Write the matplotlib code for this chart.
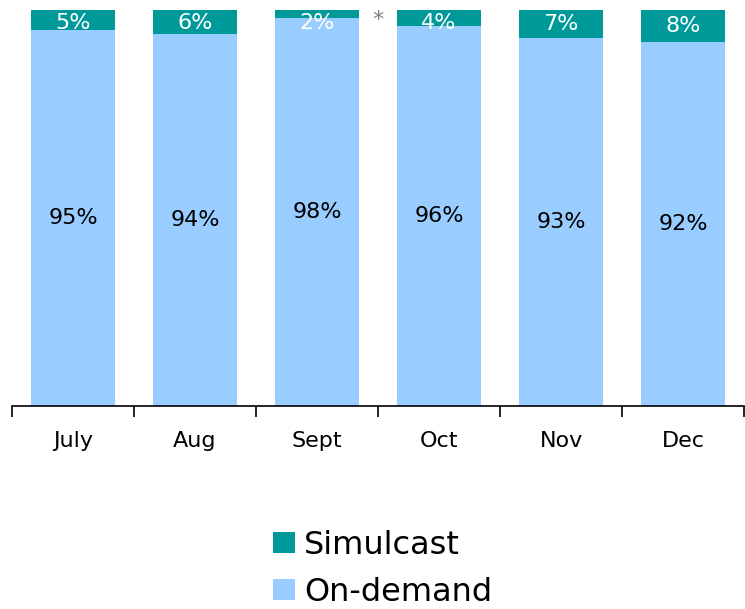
import matplotlib
matplotlib.use("Agg")
import matplotlib.pyplot as plt
import numpy as np

months = ["July", "Aug", "Sept", "Oct", "Nov", "Dec"]
on_demand = [95, 94, 98, 96, 93, 92]
simulcast = [5, 6, 2, 4, 7, 8]

teal = "#009999"
light_blue = "#99CCFF"

plt.rcParams["font.family"] = ["DejaVu Sans"]

fig = plt.figure(figsize=(7.45, 6.09), dpi=100)
ax = fig.add_axes([12 / 745, 1 - 406 / 609, 732 / 745, 396 / 609])

x = np.arange(len(months))
ax.bar(x, on_demand, width=0.685, color=light_blue, label="On-demand")
ax.bar(x, simulcast, width=0.685, bottom=on_demand, color=teal, label="Simulcast")

# labels inside the bars
for i in range(len(months)):
    ax.text(x[i], on_demand[i] / 2, f"{on_demand[i]}%", ha="center", va="center",
            fontsize=16, color="black")
    y_sim = min(on_demand[i] + simulcast[i] / 2, 96.6)
    ax.text(x[i], y_sim, f"{simulcast[i]}%", ha="center", va="center",
            fontsize=16, color="white")

ax.text(2.5, 97.5, "*", ha="center", va="center", fontsize=16, color="#808080")

ax.set_xlim(-0.5, len(months) - 0.5)
ax.set_ylim(0, 100)
ax.set_yticks([])
ax.set_xticks(x)
ax.set_xticklabels(months, fontsize=16)
ax.set_xticks(np.arange(-0.5, len(months)), minor=True)
ax.tick_params(axis="x", which="major", length=0, pad=18)
ax.tick_params(axis="x", which="minor", length=8, width=1.2, direction="out", color="black")
for s in ["left", "right", "top"]:
    ax.spines[s].set_visible(False)
ax.spines["bottom"].set_linewidth(1.2)

handles, labels = ax.get_legend_handles_labels()
fig.legend(handles[::-1], labels[::-1], loc="center", bbox_to_anchor=(0.514, 0.066),
           frameon=False, fontsize=23, handlelength=0.67, handleheight=0.67,
           handletextpad=0.3, labelspacing=0.5)

fig.savefig("out.png", dpi=100)
